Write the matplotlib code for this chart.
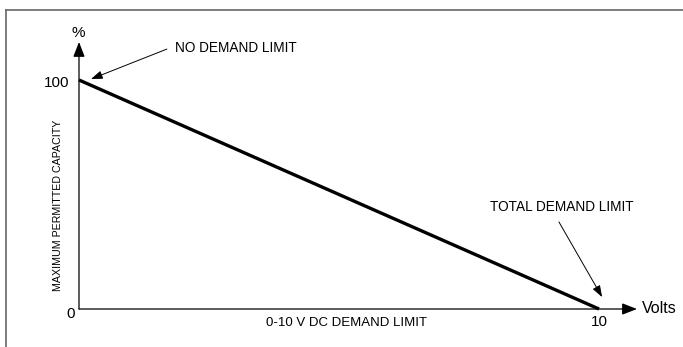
import matplotlib
matplotlib.use("Agg")
import matplotlib.pyplot as plt
from matplotlib.lines import Line2D

plt.rcParams['font.family'] = ['Liberation Sans', 'DejaVu Sans']

# Demand limit signal (V) against permitted capacity (%)
volts = [0, 10]
capacity = [100, 0]
xMaxLabel = '10'
yMaxLabel = '100'
originLabel = '0'

fig = plt.figure(figsize=(6.83, 3.47), dpi=100)

# Axes placed so 0..10 V and 0..100 % sit where the drawn axes are
W, H = 683.0, 347.0
ax = fig.add_axes([79 / W, (H - 309) / H, 520 / W, 229 / H])
ax.set_xlim(0, 10)
ax.set_ylim(0, 100)
ax.axis('off')

# Outer frame, only top and left edges visible
fig.add_artist(Line2D([6 / W, 6 / W], [0, 1 - 10 / H], color='#666666', lw=1.2))
fig.add_artist(Line2D([6 / W, 1], [1 - 10 / H, 1 - 10 / H], color='#666666', lw=1.2))

# Axis lines with arrow heads
axisArrow = dict(arrowstyle='-|>,head_length=0.9,head_width=0.35', color='black',
                 lw=0.9, shrinkA=0, shrinkB=0)
ax.annotate('', xy=(10.73, 0), xytext=(0, 0), arrowprops=axisArrow, annotation_clip=False)
ax.annotate('', xy=(0, 116.6), xytext=(0, 0), arrowprops=axisArrow, annotation_clip=False)

# Capacity curve
ax.plot(volts, capacity, color='black', lw=2.4, solid_capstyle='butt', clip_on=False)

tickFs = 11
ax.text(volts[1], -5.5, xMaxLabel, ha='center', va='center', fontsize=tickFs)
ax.text(-0.17, -2.2, originLabel, ha='center', va='center', fontsize=tickFs)
ax.text(-0.19, capacity[0] - 1.3, yMaxLabel, ha='right', va='center', fontsize=tickFs)
ax.text(-0.02, 120.5, '%', ha='center', va='center', fontsize=tickFs)
ax.text(10.82, 0.3, 'Volts', ha='left', va='center', fontsize=11.5)
ax.text(5.15, -6, '0-10 V DC DEMAND LIMIT', ha='center', va='center', fontsize=9.5)
ax.text(-0.41, 45.4, 'MAXIMUM PERMITTED CAPACITY', ha='center', va='center',
        rotation=90, fontsize=7.65)

# Callouts
calloutArrow = dict(arrowstyle='-|>,head_length=0.7,head_width=0.25', color='black',
                    lw=0.7, shrinkA=0, shrinkB=0)
ax.text(1.85, 114, 'NO DEMAND LIMIT', ha='left', va='center', fontsize=9.8)
ax.annotate('', xy=(0.23, 100.4), xytext=(1.69, 113.5), arrowprops=calloutArrow,
            annotation_clip=False)
ax.text(9.29, 44.5, 'TOTAL DEMAND LIMIT', ha='center', va='center', fontsize=9.8)
ax.annotate('', xy=(10.06, 5.2), xytext=(9.23, 38), arrowprops=calloutArrow,
            annotation_clip=False)

fig.savefig('out.png', dpi=100)
